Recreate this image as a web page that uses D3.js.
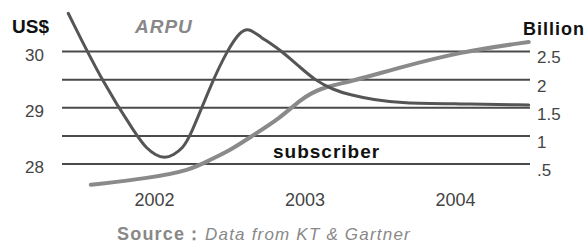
<!DOCTYPE html>
<html>
<head>
<meta charset="utf-8">
<script src="https://cdn.jsdelivr.net/npm/d3@7"></script>
<style>
  body { margin: 0; background: #fff; }
  svg { display: block; font-family: Arial, "Liberation Sans", sans-serif; }
</style>
</head>
<body>
<script>
// ---- data ----
var arpuYears = [2001.43, 2001.65, 2001.89, 2001.95, 2002.01, 2002.07, 2002.13, 2002.19, 2002.24, 2002.39,
                 2002.49, 2002.57, 2002.63, 2002.70, 2002.84, 2002.97, 2003.07, 2003.19, 2003.30, 2003.46,
                 2003.64, 2004.03, 2004.49];
var arpuValues = [30.68, 29.49, 28.48, 28.28, 28.16, 28.10, 28.16, 28.28, 28.48, 29.49,
                  30.03, 30.35, 30.42, 30.27, 30.03, 29.72, 29.49, 29.32, 29.23, 29.14,
                  29.08, 29.07, 29.05];
var subYears = [2001.58, 2001.97, 2002.24, 2002.37, 2002.51, 2002.64, 2002.84, 2002.97, 2003.10, 2003.30,
                2003.64, 2004.03, 2004.49];
var subValues = [0.13, 0.25, 0.39, 0.57, 0.75, 0.98, 1.32, 1.64, 1.85, 1.96,
                 2.22, 2.49, 2.67];
var xTicks = [2002, 2003, 2004];
var leftTicks = [28, 29, 30];
var rightTicks = [0.5, 1, 1.5, 2, 2.5];
var rightLabels = [".5", "1", "1.5", "2", "2.5"];

var width = 588, height = 244;

var svg = d3.select("body").append("svg")
    .attr("width", width)
    .attr("height", height);

// scales
var x = d3.scaleLinear().domain([2002, 2004]).range([154, 455]);
var yLeft = d3.scaleLinear().domain([28, 30]).range([164, 51.5]);
var yRight = d3.scaleLinear().domain([0.5, 2.5]).range([164, 51.5]);

// grid lines (one per right tick)
svg.append("g").selectAll("line")
    .data(rightTicks)
    .enter().append("line")
    .attr("x1", 62)
    .attr("x2", 530)
    .attr("y1", function (d) { return yRight(d); })
    .attr("y2", function (d) { return yRight(d); })
    .style("stroke", "#4a4a4a")
    .style("stroke-width", 2);

// left axis labels
var leftAxis = d3.axisLeft(yLeft).tickValues(leftTicks).tickSize(0).tickPadding(0)
    .tickFormat(d3.format("d"));
var gl = svg.append("g").attr("transform", "translate(44,3.5)").call(leftAxis);
gl.select(".domain").remove();
gl.selectAll("text")
    .style("font-size", "17px")
    .style("font-family", "Arial, 'Liberation Sans', sans-serif")
    .style("fill", "#444");

// right axis labels
var rightAxis = d3.axisRight(yRight).tickValues(rightTicks).tickSize(0).tickPadding(0)
    .tickFormat(function (d, i) { return rightLabels[i]; });
var gr = svg.append("g").attr("transform", "translate(537,6)").call(rightAxis);
gr.select(".domain").remove();
gr.selectAll("text")
    .style("font-size", "17px")
    .style("font-family", "Arial, 'Liberation Sans', sans-serif")
    .style("fill", "#444");

// x axis labels
var xAxis = d3.axisBottom(x).tickValues(xTicks).tickSize(0).tickPadding(0).tickFormat(d3.format("d"));
var gx = svg.append("g").attr("transform", "translate(0,193)").call(xAxis);
gx.select(".domain").remove();
gx.selectAll("text")
    .style("font-size", "18px")
    .style("font-family", "Arial, 'Liberation Sans', sans-serif")
    .style("fill", "#444");

// lines (b-spline smooths the read-off points)
var subLine = d3.line()
    .x(function (d) { return x(d[0]); })
    .y(function (d) { return yRight(d[1]); })
    .curve(d3.curveBasis);
var arpuLine = d3.line()
    .x(function (d) { return x(d[0]); })
    .y(function (d) { return yLeft(d[1]); })
    .curve(d3.curveBasis);

svg.append("path")
    .datum(d3.zip(subYears, subValues))
    .attr("d", subLine)
    .style("fill", "none")
    .style("stroke", "#8a8a8a")
    .style("stroke-width", 4)
    .style("stroke-linecap", "round");

svg.append("path")
    .datum(d3.zip(arpuYears, arpuValues))
    .attr("d", arpuLine)
    .style("fill", "none")
    .style("stroke", "#555")
    .style("stroke-width", 3)
    .style("stroke-linecap", "round");

// titles
svg.append("text").text("US$")
    .attr("x", 12).attr("y", 33)
    .style("font-size", "19px").style("font-weight", "bold")
    .style("fill", "#111");
svg.append("text").text("ARPU")
    .attr("x", 135).attr("y", 33)
    .style("font-size", "19px").style("font-weight", "bold").style("font-style", "italic")
    .style("letter-spacing", "1px")
    .style("fill", "#888");
svg.append("text").text("Billion")
    .attr("x", 523).attr("y", 35)
    .style("font-size", "18px").style("font-weight", "bold")
    .style("letter-spacing", "1px")
    .style("fill", "#111");
svg.append("text").text("subscriber")
    .attr("x", 273).attr("y", 158)
    .style("font-size", "19px").style("font-weight", "bold")
    .style("letter-spacing", "1px")
    .style("fill", "#111");

// source line
var src = svg.append("text").attr("x", 117).attr("y", 240)
    .style("fill", "#888");
src.append("tspan").text("Source：")
    .style("font-size", "18px").style("font-weight", "bold").style("letter-spacing", "1.2px");
src.append("tspan").text("Data from KT & Gartner").attr("x", 205)
    .style("font-size", "17px").style("font-style", "italic").style("letter-spacing", "1.2px");
</script>
</body>
</html>
